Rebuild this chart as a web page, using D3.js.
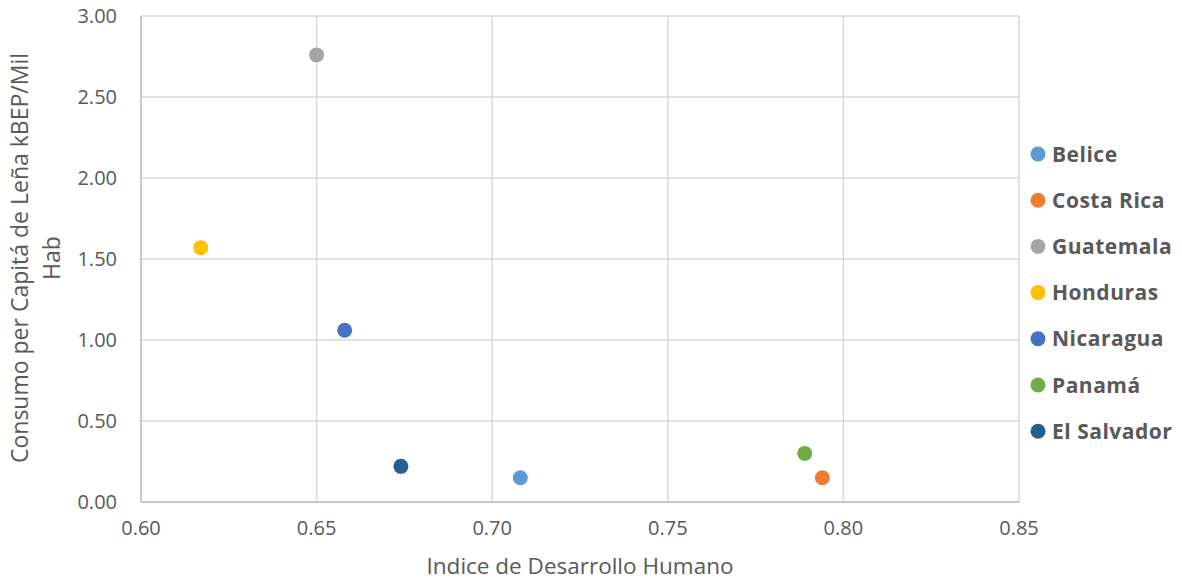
<!DOCTYPE html>
<html>
<head>
<meta charset="utf-8">
<script src="https://cdn.jsdelivr.net/npm/d3@7"></script>
<style>
  body { margin: 0; background: #fff; }
  text { font-family: "Open Sans", "Noto Sans", sans-serif; fill: #595959; }
</style>
</head>
<body>
<svg id="chart" width="1182" height="582"></svg>
<script>
// data
var countries = ['Belice', 'Costa Rica', 'Guatemala', 'Honduras', 'Nicaragua', 'Panamá', 'El Salvador'];
var idh = [0.708, 0.794, 0.650, 0.617, 0.658, 0.789, 0.674];
var consumo = [0.15, 0.15, 2.76, 1.57, 1.06, 0.30, 0.22];
var colors = ['#5B9BD5', '#ED7D31', '#A5A5A5', '#FFC000', '#4472C4', '#70AD47', '#255E91'];
var xTicks = [0.60, 0.65, 0.70, 0.75, 0.80, 0.85];
var yTicks = [0, 0.5, 1, 1.5, 2, 2.5, 3];

var svg = d3.select('#chart');
var pLeft = 141, pRight = 1019, pTop = 16, pBottom = 502;

var x = d3.scaleLinear().domain([0.60, 0.85]).range([pLeft, pRight]);
var y = d3.scaleLinear().domain([0, 3]).range([pBottom, pTop]);

// grid
svg.append('g').selectAll('line').data(xTicks).enter().append('line')
  .attr('x1', function(d) { return x(d); }).attr('x2', function(d) { return x(d); })
  .attr('y1', pTop).attr('y2', pBottom)
  .attr('stroke', '#d9d9d9').attr('stroke-width', 1.5);
svg.append('g').selectAll('line').data(yTicks).enter().append('line')
  .attr('x1', pLeft).attr('x2', pRight)
  .attr('y1', function(d) { return y(d); }).attr('y2', function(d) { return y(d); })
  .attr('stroke', '#d9d9d9').attr('stroke-width', 1.5);

// axis lines
svg.append('line').attr('x1', pLeft).attr('x2', pLeft).attr('y1', pTop).attr('y2', pBottom)
  .attr('stroke', '#bfbfbf').attr('stroke-width', 1.5);
svg.append('line').attr('x1', pLeft).attr('x2', pRight).attr('y1', pBottom).attr('y2', pBottom)
  .attr('stroke', '#bfbfbf').attr('stroke-width', 1.5);

// tick labels
svg.append('g').selectAll('text').data(yTicks).enter().append('text')
  .attr('x', 117).attr('y', function(d) { return y(d) + 7; })
  .attr('text-anchor', 'end').style('font-size', '20px')
  .text(function(d) { return d3.format('.2f')(d); });
svg.append('g').selectAll('text').data(xTicks).enter().append('text')
  .attr('x', function(d) { return x(d); }).attr('y', 535)
  .attr('text-anchor', 'middle').style('font-size', '20px')
  .text(function(d) { return d3.format('.2f')(d); });

// axis titles
svg.append('text').attr('x', 580).attr('y', 574).attr('text-anchor', 'middle')
  .style('font-size', '22.5px').text('Indice de Desarrollo Humano');
var yt = svg.append('text').attr('transform', 'translate(0,258) rotate(-90)')
  .attr('text-anchor', 'middle').style('font-size', '23px');
yt.append('tspan').attr('x', 0).attr('y', 28).text('Consumo per Capitá de Leña kBEP/Mil');
yt.append('tspan').attr('x', 0).attr('y', 60).text('Hab');

// points
svg.append('g').selectAll('circle').data(countries).enter().append('circle')
  .attr('cx', function(d, i) { return x(idh[i]); })
  .attr('cy', function(d, i) { return y(consumo[i]); })
  .attr('r', 7.5)
  .attr('fill', function(d, i) { return colors[i]; });

// legend
var legend = svg.append('g').selectAll('g').data(countries).enter().append('g')
  .attr('transform', function(d, i) { return 'translate(1038,' + (154 + i * 46.2) + ')'; });
legend.append('circle').attr('r', 7.5).attr('fill', function(d, i) { return colors[i]; });
legend.append('text').attr('x', 14).attr('y', 7.5)
  .style('font-size', '21px').style('font-weight', 'bold').style('letter-spacing', '0.5px')
  .text(function(d) { return d; });
</script>
</body>
</html>
